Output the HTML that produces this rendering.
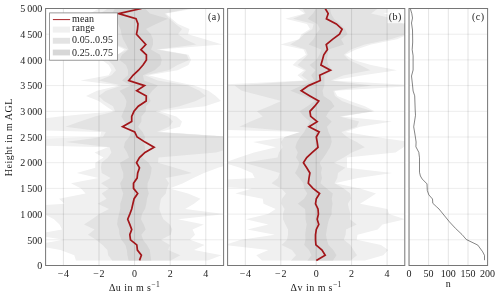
<!DOCTYPE html>
<html><head><meta charset="utf-8"><title>profile statistics</title>
<style>
html,body{margin:0;padding:0;background:#fff;}
svg{display:block;}
text{font-family:"Liberation Serif","DejaVu Serif",serif;font-size:10px;fill:#1a1a1a;}
</style></head><body>
<svg width="500" height="297" viewBox="0 0 500 297">
<rect x="0" y="0" width="500" height="297" fill="#fff"/>

<clipPath id="clip1"><rect x="45.6" y="8.5" width="178.0" height="257.0"/></clipPath>
<g clip-path="url(#clip1)">
<polygon fill="#f0f0f0" points="99.0,8.5 90.0,13.6 95.0,18.8 100.0,23.9 105.0,29.1 108.0,34.2 110.0,39.3 114.0,44.5 124.5,49.6 118.0,54.8 102.0,59.9 108.7,65.0 111.5,70.2 108.7,75.3 80.5,80.5 118.7,85.6 97.0,90.7 86.0,95.9 98.7,101.0 106.0,106.2 113.5,111.3 60.0,116.4 20.0,121.6 -100.0,126.7 101.0,131.9 100.0,137.0 -100.0,142.1 108.0,147.3 94.5,152.4 103.5,157.6 95.3,162.7 95.3,167.8 76.7,173.0 98.5,178.1 71.0,183.3 81.0,188.4 85.6,193.5 59.0,198.7 64.6,203.8 -20.0,209.0 44.0,214.1 54.0,219.2 59.5,224.4 62.0,229.5 33.0,234.7 63.8,239.8 33.0,244.9 60.5,250.1 74.3,255.2 75.9,260.4 207.8,260.4 221.5,255.2 194.0,250.1 204.6,244.9 190.0,239.8 195.0,234.7 192.5,229.5 203.8,224.4 178.0,219.2 225.0,214.1 185.2,209.0 194.0,203.8 200.5,198.7 188.0,193.5 169.5,188.4 183.0,183.3 193.3,178.1 204.0,173.0 218.0,167.8 235.0,162.7 250.0,157.6 250.0,152.4 250.0,147.3 250.0,142.1 234.0,137.0 160.0,131.9 180.0,126.7 182.0,121.6 176.3,116.4 159.4,111.3 205.0,106.2 221.0,101.0 215.8,95.9 208.5,90.7 194.0,85.6 170.0,80.5 148.5,75.3 177.6,70.2 188.5,65.0 191.0,59.9 188.5,54.8 159.0,49.6 222.0,44.5 205.0,39.3 188.0,34.2 189.5,29.1 178.0,23.9 171.7,18.8 166.0,13.6 195.0,8.5"/>
<polygon fill="#e3e3e3" points="108.0,8.5 100.0,13.6 105.0,18.8 108.0,23.9 110.0,29.1 112.0,34.2 114.0,39.3 116.0,44.5 127.5,49.6 117.0,54.8 107.8,59.9 113.0,65.0 116.0,70.2 111.5,75.3 98.7,80.5 122.0,85.6 106.0,90.7 98.7,95.9 104.0,101.0 113.0,106.2 115.0,111.3 95.0,116.4 80.0,121.6 65.4,126.7 105.8,131.9 103.0,137.0 65.4,142.1 109.5,147.3 111.4,152.4 108.0,157.6 101.5,162.7 101.0,167.8 101.7,173.0 110.6,178.1 101.0,183.3 109.0,188.4 101.7,193.5 106.6,198.7 97.7,203.8 109.0,209.0 99.3,214.1 92.0,219.2 84.0,224.4 94.5,229.5 88.0,234.7 96.0,239.8 102.5,244.9 107.4,250.1 108.2,255.2 112.2,260.4 170.7,260.4 180.3,255.2 168.2,250.1 169.8,244.9 161.0,239.8 170.7,234.7 172.3,229.5 169.8,224.4 163.4,219.2 161.0,214.1 159.3,209.0 160.0,203.8 161.0,198.7 165.8,193.5 166.8,188.4 169.0,183.3 165.5,178.1 192.0,173.0 175.0,167.8 158.0,162.7 158.5,157.6 216.0,152.4 235.0,147.3 240.0,142.1 231.0,137.0 157.0,131.9 169.0,126.7 173.0,121.6 168.0,116.4 155.5,111.3 179.5,106.2 195.8,101.0 205.8,95.9 199.5,90.7 188.5,85.6 157.6,80.5 145.0,75.3 168.5,70.2 177.6,65.0 189.0,59.9 186.7,54.8 156.5,49.6 196.4,44.5 185.0,39.3 178.0,34.2 182.0,29.1 175.5,23.9 169.5,18.8 164.7,13.6 190.0,8.5"/>
<polygon fill="#d7d7d7" points="115.0,8.5 112.0,13.6 115.0,18.8 118.0,23.9 120.5,29.1 121.5,34.2 123.0,39.3 126.0,44.5 128.6,49.6 122.0,54.8 119.5,59.9 126.0,65.0 128.0,70.2 128.0,75.3 122.0,80.5 131.0,85.6 119.5,90.7 124.0,95.9 126.5,101.0 125.8,106.2 123.5,111.3 121.4,116.4 124.4,121.6 128.0,126.7 131.0,131.9 129.2,137.0 125.0,142.1 123.8,147.3 127.0,152.4 129.0,157.6 120.0,162.7 121.4,167.8 123.2,173.0 123.2,178.1 120.2,183.3 121.4,188.4 123.2,193.5 122.0,198.7 120.2,203.8 120.2,209.0 119.0,214.1 117.7,219.2 117.1,224.4 119.0,229.5 119.5,234.7 121.4,239.8 125.5,244.9 126.8,250.1 127.4,255.2 128.6,260.4 151.2,260.4 150.5,255.2 149.8,250.1 147.0,244.9 143.0,239.8 141.4,234.7 145.6,229.5 143.8,224.4 141.0,219.2 142.0,214.1 145.0,209.0 146.3,203.8 147.0,198.7 148.8,193.5 147.5,188.4 147.6,183.3 149.8,178.1 151.0,173.0 151.7,167.8 148.6,162.7 142.0,157.6 145.0,152.4 145.0,147.3 143.8,142.1 145.0,137.0 142.6,131.9 138.0,126.7 141.4,121.6 141.4,116.4 145.8,111.3 146.0,106.2 150.7,101.0 148.5,95.9 152.2,90.7 158.0,85.6 144.0,80.5 143.0,75.3 154.6,70.2 160.5,65.0 161.7,59.9 160.0,54.8 151.0,49.6 153.0,44.5 153.0,39.3 151.0,34.2 146.0,29.1 156.0,23.9 168.0,18.8 150.0,13.6 145.0,8.5"/>
<line x1="63.4" y1="8.5" x2="63.4" y2="265.5" stroke="rgba(0,0,0,0.16)" stroke-width="0.7"/>
<line x1="99.0" y1="8.5" x2="99.0" y2="265.5" stroke="rgba(0,0,0,0.16)" stroke-width="0.7"/>
<line x1="134.6" y1="8.5" x2="134.6" y2="265.5" stroke="rgba(0,0,0,0.16)" stroke-width="0.7"/>
<line x1="170.2" y1="8.5" x2="170.2" y2="265.5" stroke="rgba(0,0,0,0.16)" stroke-width="0.7"/>
<line x1="205.8" y1="8.5" x2="205.8" y2="265.5" stroke="rgba(0,0,0,0.16)" stroke-width="0.7"/>
<line x1="45.6" y1="239.8" x2="223.6" y2="239.8" stroke="rgba(0,0,0,0.11)" stroke-width="0.7"/>
<line x1="45.6" y1="214.1" x2="223.6" y2="214.1" stroke="rgba(0,0,0,0.11)" stroke-width="0.7"/>
<line x1="45.6" y1="188.4" x2="223.6" y2="188.4" stroke="rgba(0,0,0,0.11)" stroke-width="0.7"/>
<line x1="45.6" y1="162.7" x2="223.6" y2="162.7" stroke="rgba(0,0,0,0.11)" stroke-width="0.7"/>
<line x1="45.6" y1="137.0" x2="223.6" y2="137.0" stroke="rgba(0,0,0,0.11)" stroke-width="0.7"/>
<line x1="45.6" y1="111.3" x2="223.6" y2="111.3" stroke="rgba(0,0,0,0.11)" stroke-width="0.7"/>
<line x1="45.6" y1="85.6" x2="223.6" y2="85.6" stroke="rgba(0,0,0,0.11)" stroke-width="0.7"/>
<line x1="45.6" y1="59.9" x2="223.6" y2="59.9" stroke="rgba(0,0,0,0.11)" stroke-width="0.7"/>
<line x1="45.6" y1="34.2" x2="223.6" y2="34.2" stroke="rgba(0,0,0,0.11)" stroke-width="0.7"/>
<polyline fill="none" stroke="#a2161a" stroke-width="1.7" stroke-linejoin="miter" points="141.5,8.5 118.5,13.6 136.0,18.8 138.0,23.9 137.5,29.1 136.5,34.2 141.0,39.3 145.8,44.5 140.9,49.6 146.4,54.8 146.4,59.9 143.0,65.0 138.5,70.2 133.0,75.3 128.8,80.5 144.5,85.6 136.7,90.7 146.3,95.9 146.2,101.0 138.3,106.2 134.0,111.3 131.7,116.4 131.7,121.6 122.6,126.7 134.7,131.9 137.1,137.0 145.0,142.1 154.1,147.3 145.0,152.4 139.5,157.6 136.5,162.7 139.5,167.8 137.7,173.0 137.1,178.1 133.5,183.3 133.5,188.4 137.7,193.5 134.1,198.7 132.9,203.8 131.7,209.0 129.8,214.1 127.7,219.2 129.8,224.4 131.7,229.5 129.8,234.7 130.5,239.8 136.8,244.9 137.4,250.1 141.4,255.2 139.5,260.4"/>
</g>
<rect x="45.6" y="8.5" width="178.0" height="257.0" fill="none" stroke="#767676" stroke-width="1"/>
<text x="63.8" y="276.7" text-anchor="middle" letter-spacing="0.7">−4</text>
<text x="99.3" y="276.7" text-anchor="middle" letter-spacing="0.7">−2</text>
<text x="134.6" y="276.7" text-anchor="middle">0</text>
<text x="170.2" y="276.7" text-anchor="middle">2</text>
<text x="205.8" y="276.7" text-anchor="middle">4</text>
<clipPath id="clip2"><rect x="227.6" y="8.5" width="177.2" height="257.0"/></clipPath>
<g clip-path="url(#clip2)">
<polygon fill="#f0f0f0" points="297.5,8.5 304.5,13.6 285.4,18.8 307.0,23.9 310.0,29.1 301.5,34.2 299.0,39.3 280.5,44.5 303.5,49.6 306.0,54.8 298.0,59.9 292.6,65.0 304.0,70.2 297.5,75.3 304.0,80.5 200.0,85.6 150.0,90.7 150.0,95.9 200.0,101.0 200.0,106.2 200.0,111.3 200.0,116.4 200.0,121.6 100.0,126.7 304.0,131.9 287.4,137.0 253.0,142.1 276.0,147.3 254.0,152.4 239.0,157.6 224.0,162.7 240.0,167.8 252.2,173.0 254.7,178.1 150.0,183.3 252.0,188.4 235.3,193.5 262.7,198.7 263.5,203.8 275.7,209.0 268.0,214.1 245.8,219.2 268.4,224.4 247.4,229.5 274.8,234.7 241.0,239.8 225.0,244.9 268.4,250.1 256.3,255.2 262.0,260.4 365.0,260.4 383.3,255.2 388.2,250.1 381.0,244.9 356.7,239.8 357.5,234.7 377.7,229.5 382.5,224.4 405.0,219.2 389.0,214.1 387.4,209.0 360.0,203.8 368.0,198.7 376.0,193.5 360.0,188.4 335.0,183.3 358.0,178.1 392.2,173.0 347.0,167.8 347.0,162.7 347.0,157.6 395.5,152.4 403.5,147.3 410.0,142.1 376.0,137.0 345.4,131.9 360.0,126.7 392.0,121.6 341.3,116.4 374.5,111.3 364.8,106.2 350.0,101.0 337.3,95.9 334.5,90.7 420.0,85.6 332.5,80.5 363.0,75.3 397.0,70.2 371.0,65.0 353.5,59.9 345.4,54.8 356.0,49.6 371.0,44.5 397.0,39.3 408.5,34.2 410.0,29.1 410.0,23.9 410.0,18.8 383.0,13.6 410.0,8.5"/>
<polygon fill="#e3e3e3" points="302.3,8.5 305.6,13.6 293.0,18.8 313.6,23.9 312.4,29.1 304.0,34.2 299.0,39.3 290.0,44.5 305.6,49.6 307.7,54.8 302.5,59.9 297.5,65.0 306.0,70.2 301.3,75.3 308.0,80.5 234.5,85.6 241.7,90.7 262.0,95.9 281.3,101.0 269.2,106.2 257.0,111.3 262.7,116.4 250.6,121.6 239.3,126.7 300.0,131.9 284.6,137.0 281.0,142.1 282.5,147.3 279.0,152.4 277.5,157.6 243.6,162.7 262.0,167.8 279.7,173.0 278.0,178.1 271.6,183.3 281.3,188.4 286.0,193.5 282.0,198.7 281.3,203.8 284.5,209.0 283.0,214.1 283.0,219.2 285.5,224.4 288.0,229.5 288.0,234.7 287.0,239.8 281.5,244.9 292.0,250.1 296.0,255.2 291.0,260.4 350.5,260.4 357.0,255.2 353.5,250.1 350.5,244.9 343.8,239.8 345.6,234.7 346.0,229.5 356.7,224.4 350.0,219.2 350.5,214.1 349.0,209.0 347.8,203.8 351.0,198.7 350.2,193.5 343.8,188.4 334.5,183.3 337.3,178.1 338.0,173.0 345.4,167.8 334.0,162.7 343.8,157.6 351.8,152.4 364.8,147.3 356.7,142.1 347.0,137.0 341.3,131.9 356.7,126.7 359.0,121.6 339.7,116.4 372.8,111.3 356.0,106.2 342.0,101.0 335.0,95.9 333.3,90.7 372.0,85.6 330.8,80.5 343.8,75.3 370.4,70.2 360.0,65.0 349.0,59.9 343.8,54.8 351.0,49.6 364.8,44.5 390.6,39.3 406.8,34.2 408.0,29.1 403.5,23.9 394.0,18.8 371.0,13.6 378.0,8.5"/>
<polygon fill="#d7d7d7" points="316.0,8.5 313.0,13.6 307.6,18.8 317.3,23.9 320.0,29.1 316.0,34.2 313.5,39.3 308.6,44.5 321.4,49.6 319.5,54.8 316.3,59.9 309.6,65.0 315.5,70.2 311.2,75.3 314.2,80.5 302.0,85.6 290.3,90.7 304.0,95.9 314.7,101.0 307.5,106.2 299.4,111.3 304.0,116.4 310.0,121.6 306.7,126.7 304.2,131.9 300.2,137.0 297.0,142.1 295.3,147.3 297.8,152.4 296.0,157.6 299.4,162.7 297.8,167.8 295.0,173.0 299.3,178.1 303.3,183.3 304.2,188.4 307.3,193.5 304.2,198.7 297.7,203.8 305.0,209.0 305.5,214.1 305.5,219.2 306.7,224.4 305.8,229.5 305.2,234.7 305.5,239.8 304.2,244.9 309.0,250.1 311.5,255.2 307.5,260.4 333.0,260.4 336.5,255.2 333.3,250.1 328.5,244.9 326.8,239.8 326.0,234.7 326.8,229.5 327.7,224.4 329.0,219.2 331.7,214.1 331.7,209.0 332.5,203.8 331.7,198.7 332.8,193.5 326.8,188.4 320.4,183.3 322.0,178.1 321.0,173.0 322.0,167.8 319.6,162.7 323.6,157.6 326.8,152.4 330.0,147.3 331.7,142.1 331.0,137.0 328.5,131.9 327.0,126.7 331.7,121.6 326.0,116.4 329.0,111.3 334.5,106.2 331.0,101.0 323.6,95.9 322.5,90.7 324.4,85.6 324.4,80.5 324.4,75.3 332.5,70.2 328.5,65.0 326.8,59.9 327.7,54.8 328.5,49.6 344.0,44.5 341.0,39.3 347.5,34.2 345.0,29.1 340.0,23.9 334.0,18.8 331.0,13.6 330.0,8.5"/>
<line x1="245.3" y1="8.5" x2="245.3" y2="265.5" stroke="rgba(0,0,0,0.16)" stroke-width="0.7"/>
<line x1="280.8" y1="8.5" x2="280.8" y2="265.5" stroke="rgba(0,0,0,0.16)" stroke-width="0.7"/>
<line x1="316.2" y1="8.5" x2="316.2" y2="265.5" stroke="rgba(0,0,0,0.16)" stroke-width="0.7"/>
<line x1="351.6" y1="8.5" x2="351.6" y2="265.5" stroke="rgba(0,0,0,0.16)" stroke-width="0.7"/>
<line x1="387.1" y1="8.5" x2="387.1" y2="265.5" stroke="rgba(0,0,0,0.16)" stroke-width="0.7"/>
<line x1="227.6" y1="239.8" x2="404.8" y2="239.8" stroke="rgba(0,0,0,0.11)" stroke-width="0.7"/>
<line x1="227.6" y1="214.1" x2="404.8" y2="214.1" stroke="rgba(0,0,0,0.11)" stroke-width="0.7"/>
<line x1="227.6" y1="188.4" x2="404.8" y2="188.4" stroke="rgba(0,0,0,0.11)" stroke-width="0.7"/>
<line x1="227.6" y1="162.7" x2="404.8" y2="162.7" stroke="rgba(0,0,0,0.11)" stroke-width="0.7"/>
<line x1="227.6" y1="137.0" x2="404.8" y2="137.0" stroke="rgba(0,0,0,0.11)" stroke-width="0.7"/>
<line x1="227.6" y1="111.3" x2="404.8" y2="111.3" stroke="rgba(0,0,0,0.11)" stroke-width="0.7"/>
<line x1="227.6" y1="85.6" x2="404.8" y2="85.6" stroke="rgba(0,0,0,0.11)" stroke-width="0.7"/>
<line x1="227.6" y1="59.9" x2="404.8" y2="59.9" stroke="rgba(0,0,0,0.11)" stroke-width="0.7"/>
<line x1="227.6" y1="34.2" x2="404.8" y2="34.2" stroke="rgba(0,0,0,0.11)" stroke-width="0.7"/>
<polyline fill="none" stroke="#a2161a" stroke-width="1.7" stroke-linejoin="miter" points="325.2,8.5 328.2,13.6 326.4,18.8 336.3,23.9 342.1,29.1 339.5,34.2 332.5,39.3 326.2,44.5 327.4,49.6 323.8,54.8 322.4,59.9 320.9,65.0 330.5,70.2 319.7,75.3 320.3,80.5 308.6,85.6 301.2,90.7 309.9,95.9 318.8,101.0 314.7,106.2 309.9,111.3 310.7,116.4 317.2,121.6 309.0,126.7 319.2,131.9 316.3,137.0 317.2,142.1 318.0,147.3 312.3,152.4 306.7,157.6 303.4,162.7 306.7,167.8 309.9,173.0 309.0,178.1 308.3,183.3 313.0,188.4 319.6,193.5 316.3,198.7 315.5,203.8 318.0,209.0 318.4,214.1 317.2,219.2 318.8,224.4 316.3,229.5 315.5,234.7 315.5,239.8 315.9,244.9 322.0,250.1 325.2,255.2 316.3,260.4"/>
</g>
<rect x="227.6" y="8.5" width="177.2" height="257.0" fill="none" stroke="#767676" stroke-width="1"/>
<text x="245.7" y="276.7" text-anchor="middle" letter-spacing="0.7">−4</text>
<text x="281.1" y="276.7" text-anchor="middle" letter-spacing="0.7">−2</text>
<text x="316.2" y="276.7" text-anchor="middle">0</text>
<text x="351.6" y="276.7" text-anchor="middle">2</text>
<text x="387.1" y="276.7" text-anchor="middle">4</text>
<clipPath id="clip3"><rect x="409.0" y="8.5" width="78.6" height="257.0"/></clipPath>
<g clip-path="url(#clip3)">
<line x1="409.0" y1="8.5" x2="409.0" y2="265.5" stroke="rgba(0,0,0,0.16)" stroke-width="0.7"/>
<line x1="428.6" y1="8.5" x2="428.6" y2="265.5" stroke="rgba(0,0,0,0.16)" stroke-width="0.7"/>
<line x1="448.3" y1="8.5" x2="448.3" y2="265.5" stroke="rgba(0,0,0,0.16)" stroke-width="0.7"/>
<line x1="468.0" y1="8.5" x2="468.0" y2="265.5" stroke="rgba(0,0,0,0.16)" stroke-width="0.7"/>
<line x1="487.6" y1="8.5" x2="487.6" y2="265.5" stroke="rgba(0,0,0,0.16)" stroke-width="0.7"/>
<line x1="409.0" y1="239.8" x2="487.6" y2="239.8" stroke="rgba(0,0,0,0.11)" stroke-width="0.7"/>
<line x1="409.0" y1="214.1" x2="487.6" y2="214.1" stroke="rgba(0,0,0,0.11)" stroke-width="0.7"/>
<line x1="409.0" y1="188.4" x2="487.6" y2="188.4" stroke="rgba(0,0,0,0.11)" stroke-width="0.7"/>
<line x1="409.0" y1="162.7" x2="487.6" y2="162.7" stroke="rgba(0,0,0,0.11)" stroke-width="0.7"/>
<line x1="409.0" y1="137.0" x2="487.6" y2="137.0" stroke="rgba(0,0,0,0.11)" stroke-width="0.7"/>
<line x1="409.0" y1="111.3" x2="487.6" y2="111.3" stroke="rgba(0,0,0,0.11)" stroke-width="0.7"/>
<line x1="409.0" y1="85.6" x2="487.6" y2="85.6" stroke="rgba(0,0,0,0.11)" stroke-width="0.7"/>
<line x1="409.0" y1="59.9" x2="487.6" y2="59.9" stroke="rgba(0,0,0,0.11)" stroke-width="0.7"/>
<line x1="409.0" y1="34.2" x2="487.6" y2="34.2" stroke="rgba(0,0,0,0.11)" stroke-width="0.7"/>
<polyline fill="none" stroke="#333" stroke-width="0.6" points="410.3,8.5 411.8,13.6 412.5,18.0 411.5,23.0 412.5,30.0 412.7,42.0 412.2,49.7 413.1,55.8 413.1,70.0 411.5,76.0 412.5,85.0 413.1,91.0 414.7,95.8 415.2,110.0 415.5,115.3 413.7,126.8 415.2,135.9 416.1,142.0 415.9,146.8 418.8,152.3 419.5,157.8 419.5,172.3 420.4,176.0 422.2,179.0 427.0,183.9 427.3,190.5 428.8,194.8 432.5,199.0 432.8,203.3 436.7,206.9 439.0,209.0 449.4,221.8 455.5,228.4 462.0,234.5 466.3,239.5 477.8,245.1 482.7,251.8 484.5,255.4 484.5,260.2"/>
</g>
<rect x="409.0" y="8.5" width="78.6" height="257.0" fill="none" stroke="#767676" stroke-width="1"/>
<text x="409.0" y="276.7" text-anchor="middle">0</text>
<text x="428.6" y="276.7" text-anchor="middle">50</text>
<text x="448.3" y="276.7" text-anchor="middle">100</text>
<text x="468.0" y="276.7" text-anchor="middle">150</text>
<text x="487.6" y="276.7" text-anchor="middle">200</text>
<text x="42.3" y="269.2" text-anchor="end">0</text>
<text x="42.3" y="243.5" text-anchor="end">500</text>
<text x="42.3" y="217.8" text-anchor="end">1 000</text>
<text x="42.3" y="192.1" text-anchor="end">1 500</text>
<text x="42.3" y="166.4" text-anchor="end">2 000</text>
<text x="42.3" y="140.7" text-anchor="end">2 500</text>
<text x="42.3" y="115.0" text-anchor="end">3 000</text>
<text x="42.3" y="89.3" text-anchor="end">3 500</text>
<text x="42.3" y="63.6" text-anchor="end">4 000</text>
<text x="42.3" y="37.9" text-anchor="end">4 500</text>
<text x="42.3" y="12.2" text-anchor="end">5 000</text>
<text transform="translate(12.1,137.2) rotate(-90)" text-anchor="middle" letter-spacing="0.52">Height in m AGL</text>
<text x="134.6" y="290.8" text-anchor="middle" letter-spacing="0.5">Δu in m s<tspan dy="-4" font-size="7.5px">−1</tspan></text>
<text x="316.2" y="290.8" text-anchor="middle" letter-spacing="0.5">Δv in m s<tspan dy="-4" font-size="7.5px">−1</tspan></text>
<text x="448.3" y="287.1" text-anchor="middle">n</text>
<rect x="206.4" y="9.2" width="16.6" height="14" fill="#fff" fill-opacity="0.72"/>
<rect x="387.6" y="9.2" width="16.6" height="14" fill="#fff" fill-opacity="0.72"/>
<rect x="470.4" y="9.2" width="16.6" height="14" fill="#fff" fill-opacity="0.72"/>
<text x="220.5" y="20.2" text-anchor="end" letter-spacing="0.45" font-size="10.3px">(a)</text>
<text x="401.7" y="20.2" text-anchor="end" letter-spacing="0.45" font-size="10.3px">(b)</text>
<text x="484.5" y="20.2" text-anchor="end" letter-spacing="0.45" font-size="10.3px">(c)</text>
<rect x="49.6" y="12.9" width="68" height="47.3" fill="#fff" stroke="#808080" stroke-width="0.8"/>
<line x1="52.9" y1="19.55" x2="70.1" y2="19.55" stroke="#a2161a" stroke-width="1.1" stroke-opacity="0.85"/>
<rect x="52.8" y="26.6" width="17.2" height="6" fill="#f0f0f0"/>
<rect x="52.8" y="37.8" width="17.2" height="5.9" fill="#e3e3e3"/>
<rect x="52.8" y="49.6" width="17.2" height="5.8" fill="#d7d7d7"/>
<text x="72" y="21.8" letter-spacing="0.15">mean</text>
<text x="72" y="31" letter-spacing="0.15">range</text>
<text x="72" y="43.4" letter-spacing="0.1">0.05..0.95</text>
<text x="72" y="55.5" letter-spacing="0.1">0.25..0.75</text>
</svg></body></html>
